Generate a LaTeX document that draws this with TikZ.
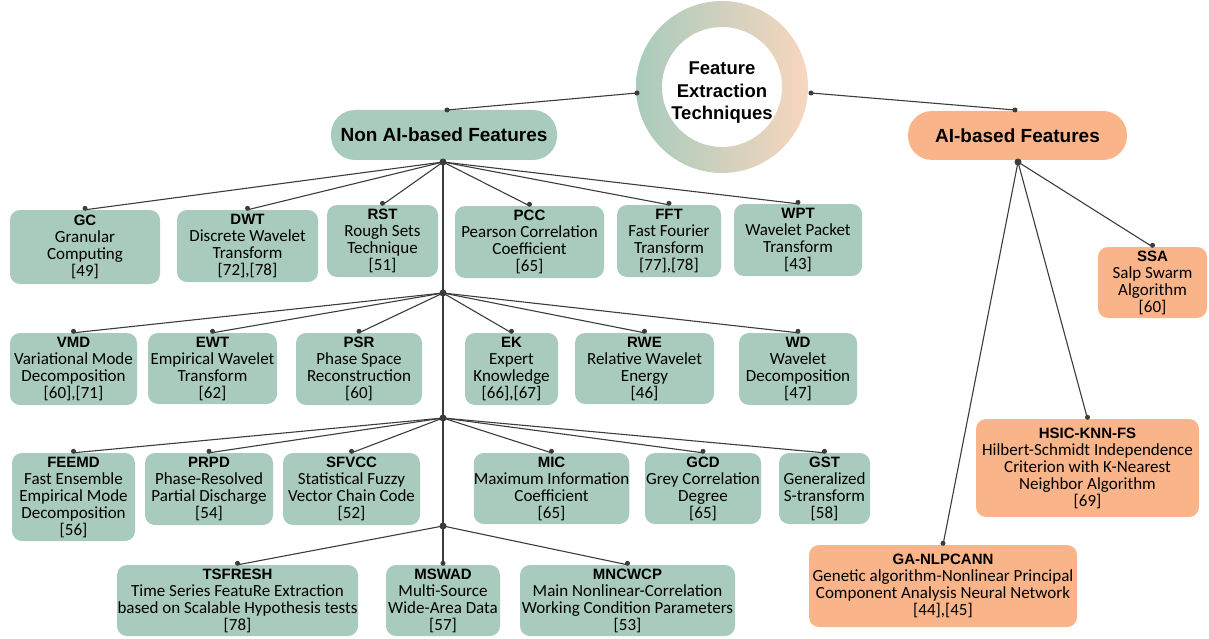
\documentclass[tikz,border=0pt]{standalone}
\usepackage{fontspec}
\setmainfont{Carlito}
\newfontfamily\headfont{Liberation Sans}
\newcommand\hb{\headfont\bfseries}
\definecolor{gfill}{RGB}{168,203,189}
\definecolor{ofill}{RGB}{249,180,138}
\definecolor{peach}{RGB}{248,214,190}
\definecolor{linec}{RGB}{60,60,60}
\tikzset{
  conn/.style={draw=linec, line width=1.1pt},
  dotc/.style={circle, fill=linec, inner sep=0pt, minimum size=5pt},
  hubdot/.style={circle, fill=linec, inner sep=0pt, minimum size=7pt},
  gbox/.style={fill=gfill, rounded corners=10pt, align=center, inner sep=0pt,
    font=\fontsize{17}{17}\selectfont},
  obox/.style={gbox, fill=ofill},
  pill/.style={rounded corners=24pt, inner sep=0pt, font=\hb\fontsize{19}{22}\selectfont},
}
\newcommand\ttl[1]{{\hb\fontsize{15}{17}\selectfont #1}}
\begin{document}
\begin{tikzpicture}[x=1pt, y=-1pt]
\useasboundingbox (0,0) rectangle (1209,639);

% central ring with a green-to-peach gradient
\shade[even odd rule, left color=gfill, right color=peach]
  (722,87) circle (86pt) (722,87) circle (60pt);
\node[circle, minimum size=172pt, inner sep=0pt] (fet) at (722,87) {};
\node[align=center, font=\hb\fontsize{18.5}{22.5}\selectfont] (fettext) at (722,93)
  {Feature\\Extraction\\Techniques};

% the two branches
\node[pill, fill=gfill, minimum width=226pt, minimum height=50pt] (nai) at (444,135) {Non AI-based Features};
\node[pill, fill=ofill, minimum width=219pt, minimum height=49pt] (ai) at (1017.5,135.5) {AI-based Features};

% non-AI leaves, row 1
\node[gbox, minimum width=150pt, minimum height=74pt] (gc)  at (85,247)    {\ttl{GC}\\Granular\\Computing\\{[49]}};
\node[gbox, minimum width=141pt, minimum height=72pt] (dwt) at (247.5,246) {\ttl{DWT}\\Discrete Wavelet\\Transform\\{[72],[78]}};
\node[gbox, minimum width=111pt, minimum height=72pt] (rst) at (382.5,241) {\ttl{RST}\\Rough Sets\\Technique\\{[51]}};
\node[gbox, minimum width=149pt, minimum height=72pt] (pcc) at (529.5,242) {\ttl{PCC}\\Pearson Correlation\\Coefficient\\{[65]}};
\node[gbox, minimum width=104pt, minimum height=72pt] (fft) at (669,241)   {\ttl{FFT}\\Fast Fourier\\Transform\\{[77],[78]}};
\node[gbox, minimum width=128pt, minimum height=72pt] (wpt) at (798,240)   {\ttl{WPT}\\Wavelet Packet\\Transform\\{[43]}};

% row 2
\node[gbox, minimum width=127pt, minimum height=72pt] (vmd) at (73.5,369)   {\ttl{VMD}\\Variational Mode\\Decomposition\\{[60],[71]}};
\node[gbox, minimum width=129pt, minimum height=71pt] (ewt) at (212.5,368.5) {\ttl{EWT}\\Empirical Wavelet\\Transform\\{[62]}};
\node[gbox, minimum width=126pt, minimum height=72pt] (psr) at (359,369)    {\ttl{PSR}\\Phase Space\\Reconstruction\\{[60]}};
\node[gbox, minimum width=93pt,  minimum height=72pt] (ek)  at (511.5,369)  {\ttl{EK}\\Expert\\Knowledge\\{[66],[67]}};
\node[gbox, minimum width=139pt, minimum height=71pt] (rwe) at (644.5,368.5) {\ttl{RWE}\\Relative Wavelet\\Energy\\{[46]}};
\node[gbox, minimum width=118pt, minimum height=72pt] (wd)  at (798,369)    {\ttl{WD}\\Wavelet\\Decomposition\\{[47]}};

% row 3
\node[gbox, minimum width=123pt, minimum height=88pt] (feemd) at (73.5,497)  {\ttl{FEEMD}\\Fast Ensemble\\Empirical Mode\\Decomposition\\{[56]}};
\node[gbox, minimum width=128pt, minimum height=72pt] (prpd)  at (209,489)   {\ttl{PRPD}\\Phase-Resolved\\Partial Discharge\\{[54]}};
\node[gbox, minimum width=137pt, minimum height=72pt] (sfvcc) at (351.5,489) {\ttl{SFVCC}\\Statistical Fuzzy\\Vector Chain Code\\{[52]}};
\node[gbox, minimum width=151pt, minimum height=71pt] (mic)   at (551.5,488.5) {\ttl{MIC}\\Maximum Information\\Coefficient\\{[65]}};
\node[gbox, minimum width=116pt, minimum height=71pt] (gcd)   at (703,488.5) {\ttl{GCD}\\Grey Correlation\\Degree\\{[65]}};
\node[gbox, minimum width=91pt,  minimum height=71pt] (gst)   at (824.5,488.5) {\ttl{GST}\\Generalized\\S-transform\\{[58]}};

% row 4
\node[gbox, minimum width=241pt, minimum height=71pt] (tsf)   at (237.5,600.5) {\ttl{TSFRESH}\\Time Series FeatuRe Extraction\\based on Scalable Hypothesis tests\\{[78]}};
\node[gbox, minimum width=114pt, minimum height=71pt] (mswad) at (443,600.5)   {\ttl{MSWAD}\\Multi-Source\\Wide-Area Data\\{[57]}};
\node[gbox, minimum width=215pt, minimum height=71pt] (mnc)   at (627.5,600.5) {\ttl{MNCWCP}\\Main Nonlinear-Correlation\\Working Condition Parameters\\{[53]}};

% AI leaves
\node[obox, minimum width=109pt, minimum height=71pt] (ssa)  at (1152.5,282.5) {\ttl{SSA}\\Salp Swarm\\Algorithm\\{[60]}};
\node[obox, minimum width=223pt, minimum height=98pt] (hsic) at (1087.5,468)   {\ttl{HSIC-KNN-FS}\\Hilbert-Schmidt Independence\\Criterion with K-Nearest\\Neighbor Algorithm\\{[69]}};
\node[obox, minimum width=268pt, minimum height=82pt] (ga)   at (943,586)      {\ttl{GA-NLPCANN}\\Genetic algorithm-Nonlinear Principal\\Component Analysis Neural Network\\{[44],[45]}};

% branching points
\coordinate (hubA) at (443,162);
\coordinate (hubB) at (443,293);
\coordinate (hubC) at (443,418);
\coordinate (hubD) at (443,526);
\coordinate (hubAI) at (1018,162);
\coordinate (nTop) at (447,110);
\coordinate (aTop) at (1015,110);
\coordinate (cL) at (637,93);
\coordinate (cR) at (811,93);

% connectors
\draw[conn] (cL) -- (nTop);
\draw[conn] (cR) -- (aTop);
\draw[conn] (hubA) -- (mswad.north);
\foreach \n in {gc,dwt,rst,pcc,fft,wpt} \draw[conn] (hubA) -- (\n.north);
\foreach \n in {vmd,ewt,psr,ek,rwe,wd} \draw[conn] (hubB) -- (\n.north);
\foreach \n in {feemd,prpd,sfvcc,mic,gcd,gst} \draw[conn] (hubC) -- (\n.north);
\foreach \n in {tsf,mnc} \draw[conn] (hubD) -- (\n.north);
\foreach \n in {ssa,hsic,ga} \draw[conn] (hubAI) -- (\n.north);

% end dots
\foreach \p in {cL,cR,nTop,aTop} \node[dotc] at (\p) {};
\foreach \n in {gc,dwt,rst,pcc,fft,wpt,vmd,ewt,psr,ek,rwe,wd,feemd,prpd,sfvcc,mic,gcd,gst,tsf,mswad,mnc,ssa,hsic,ga}
  \node[dotc] at ([yshift=1.5pt]\n.north) {};
\foreach \p in {hubA,hubB,hubC,hubD,hubAI} \node[hubdot] at (\p) {};
\end{tikzpicture}
\end{document}
